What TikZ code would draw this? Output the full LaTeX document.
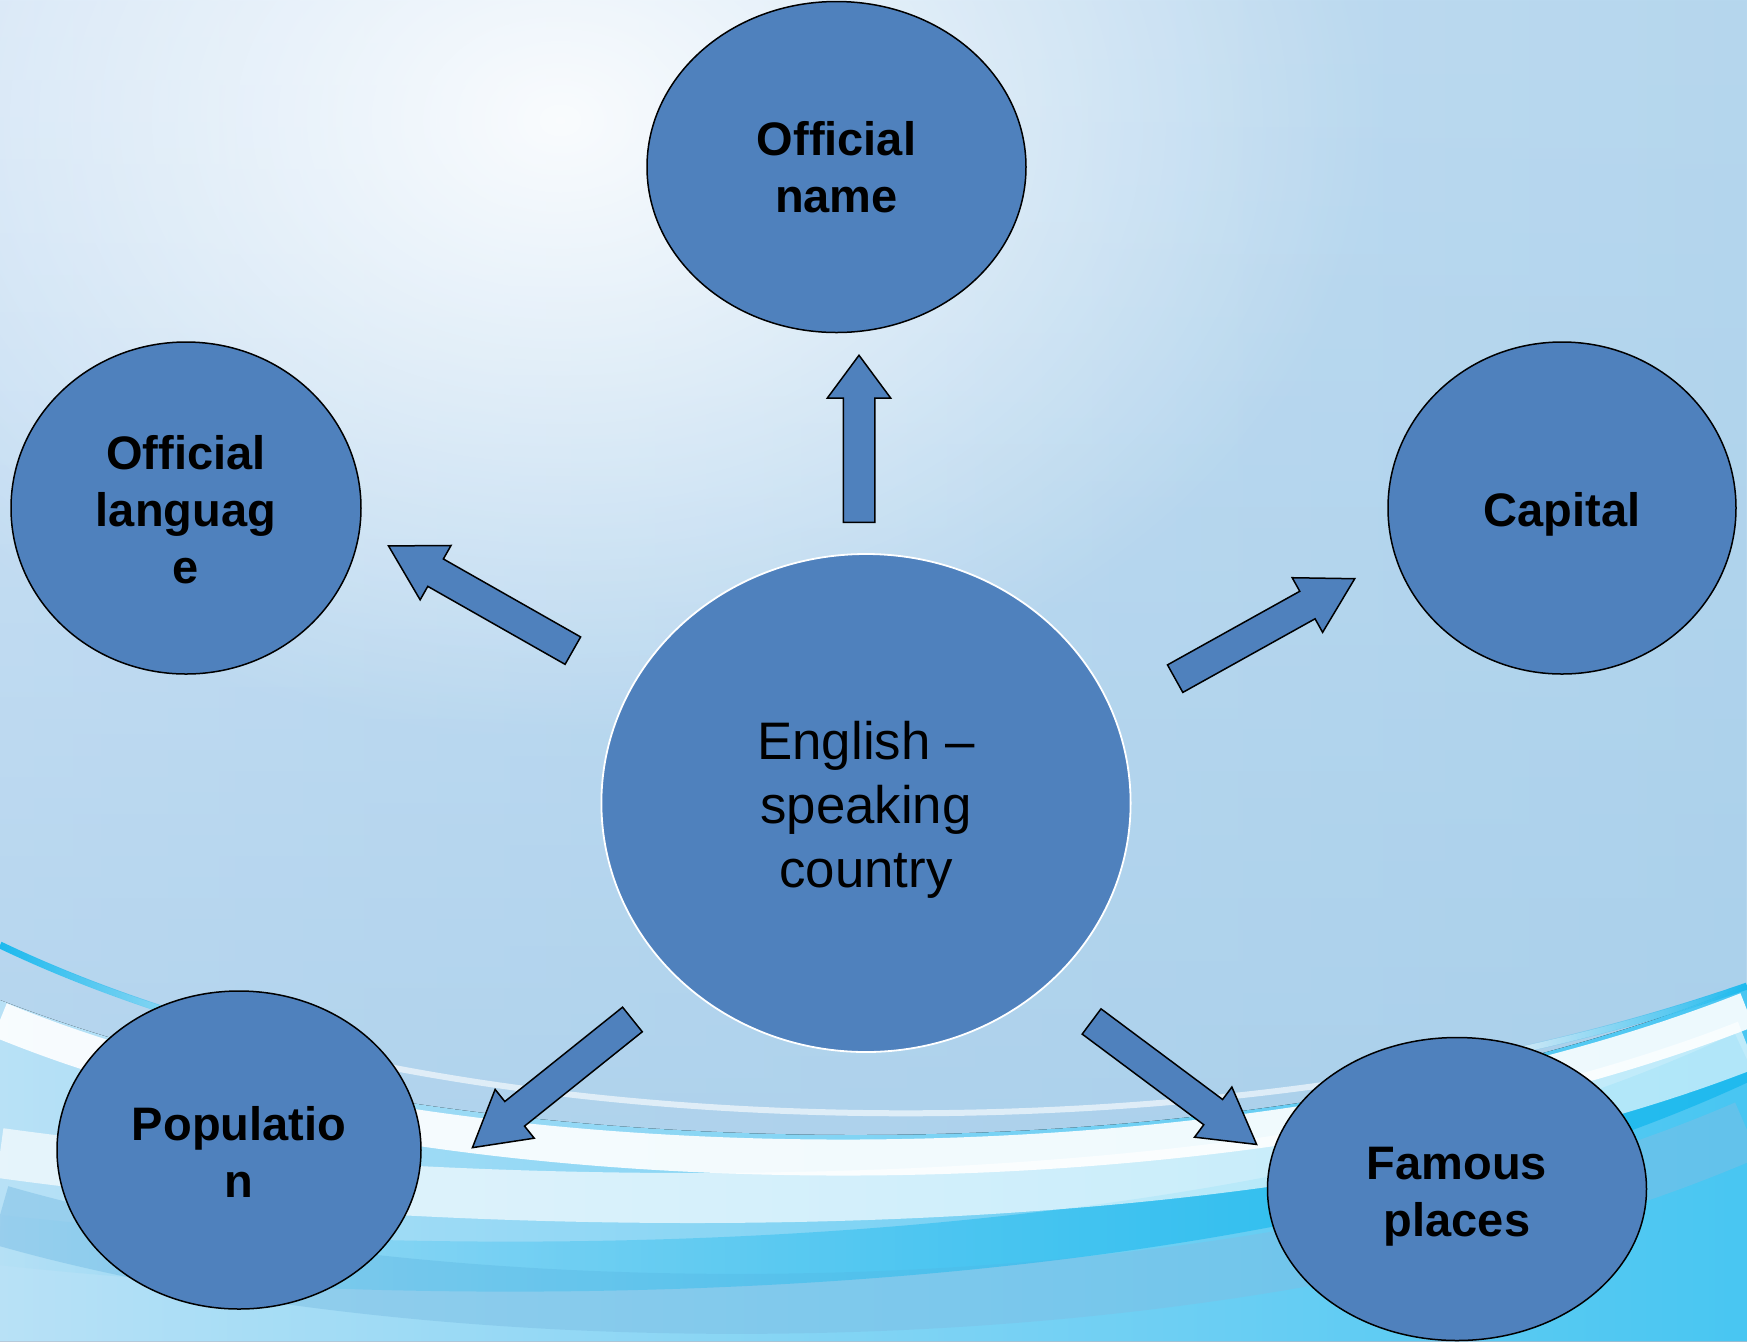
\documentclass[tikz,border=0pt]{standalone}
\usepackage{fontspec}
\setmainfont{Liberation Sans}
\usetikzlibrary{shapes.geometric,shapes.arrows,fadings}

\definecolor{nodeblue}{HTML}{4F81BD}
\definecolor{bgleft}{HTML}{D0E3F6}
\definecolor{bgright}{HTML}{B6D7EE}
\definecolor{bglow}{HTML}{A2CCE9}
\definecolor{waterleft}{HTML}{B8E1F6}
\definecolor{waterright}{HTML}{48C6F2}
\definecolor{wavecyan}{HTML}{1BB9EE}
\definecolor{wavedark}{HTML}{7DBFE5}

\tikzfading[name=glowfade, inner color=transparent!0, outer color=transparent!100]
\tikzfading[name=fadein down, top color=transparent!100, bottom color=transparent!0]
\tikzfading[name=fadein right, left color=transparent!100, right color=transparent!0]
\tikzfading[name=fadeout right, left color=transparent!0, right color=transparent!100]

\tikzset{
  topic/.style={ellipse, draw=black, line width=0.75pt, fill=nodeblue,
    inner sep=0pt, align=center, font=\bfseries\fontsize{23.5}{28.5}\selectfont},
  hub/.style={ellipse, draw=white, line width=0.9pt, fill=nodeblue,
    inner sep=0pt, align=center, font=\fontsize{26.4}{32}\selectfont},
  blockarrow/.style={single arrow, draw=black, line width=0.75pt, fill=nodeblue,
    inner xsep=0pt, inner ysep=7.5pt, single arrow head extend=7.75pt,
    single arrow tip angle=60, anchor=tail},
}

\begin{document}
\begin{tikzpicture}[x=0.5pt,y=-0.5pt]
  \useasboundingbox (0,0) rectangle (1747,1341);

  % backdrop
  \fill[left color=bgleft, right color=bgright] (0,0) rectangle (1747,1341);
  \fill[bglow, path fading=fadein down, opacity=.75] (0,0) rectangle (1747,1341);
  \fill[white, path fading=glowfade, opacity=.9] (560,120) ellipse (820 and 620);

  % water stripes
  \fill[left color=waterleft, right color=waterright]
    (0,1000) .. controls (450,1175) and (1250,1190) .. (1747,985)
    -- (1747,1341) -- (0,1341) -- cycle;
  \draw[wavedark, line width=30pt, opacity=.5]
    (0,1215) .. controls (450,1345) and (1250,1345) .. (1747,1130);
  \draw[wavecyan, line width=25pt, opacity=.9, path fading=fadein right]
    (0,1240) .. controls (450,1290) and (1250,1290) .. (1747,1056);
  \draw[white, line width=25pt, opacity=.65]
    (0,1153) .. controls (450,1215) and (1250,1240) .. (1747,1045);
  \draw[white, line width=18pt, opacity=.9]
    (0,1020) .. controls (450,1205) and (1250,1205) .. (1747,1010);
  \draw[white, line width=3pt, opacity=.6]
    (0,945) .. controls (450,1162) and (1250,1162) .. (1747,986);
  \draw[wavecyan, line width=3.5pt, path fading=fadeout right]
    (0,945) .. controls (90,988) and (194,1023) .. (307,1050);
  \draw[wavecyan, line width=3.5pt, path fading=fadein right]
    (1505,1053) .. controls (1591,1035) and (1672,1012) .. (1747,986);

  % topics
  \node[hub, minimum width=264.6pt, minimum height=249pt] (hub) at (866,803)
    {\rule{0pt}{26.2pt}English –\\speaking\\country};
  \node[topic, minimum width=189.5pt, minimum height=165.5pt] (name) at (836.5,167)
    {Official\\name};
  \node[topic, minimum width=175pt, minimum height=166pt] (lang) at (186,508)
    {\rule{0pt}{19.2pt}Official\\languag\\e};
  \node[topic, minimum width=174pt, minimum height=166pt] (capital) at (1562,508)
    {\rule{0pt}{23.6pt}Capital};
  \node[topic, minimum width=182pt, minimum height=159pt] (popul) at (239,1150)
    {\rule{0pt}{19.2pt}Populatio\\n};
  \node[topic, minimum width=189.5pt, minimum height=151.5pt] (places) at (1457,1189)
    {\rule{0pt}{23.7pt}Famous\\places};

  % arrows
  \node[blockarrow, minimum height=83.5pt, single arrow tip angle=73,
    single arrow head extend=8pt, rotate=90] (toName) at (859,523) {};
  \node[blockarrow, minimum height=106pt, rotate=150.4] (toLang) at (573.5,651) {};
  \node[blockarrow, minimum height=102.75pt, rotate=29.1] (toCapital) at (1174.5,679) {};
  \node[blockarrow, minimum height=102.5pt, rotate=218.7] (toPopul) at (633,1019) {};
  \node[blockarrow, minimum height=102.9pt, rotate=-36.7] (toPlaces) at (1091,1021) {};
\end{tikzpicture}
\end{document}
